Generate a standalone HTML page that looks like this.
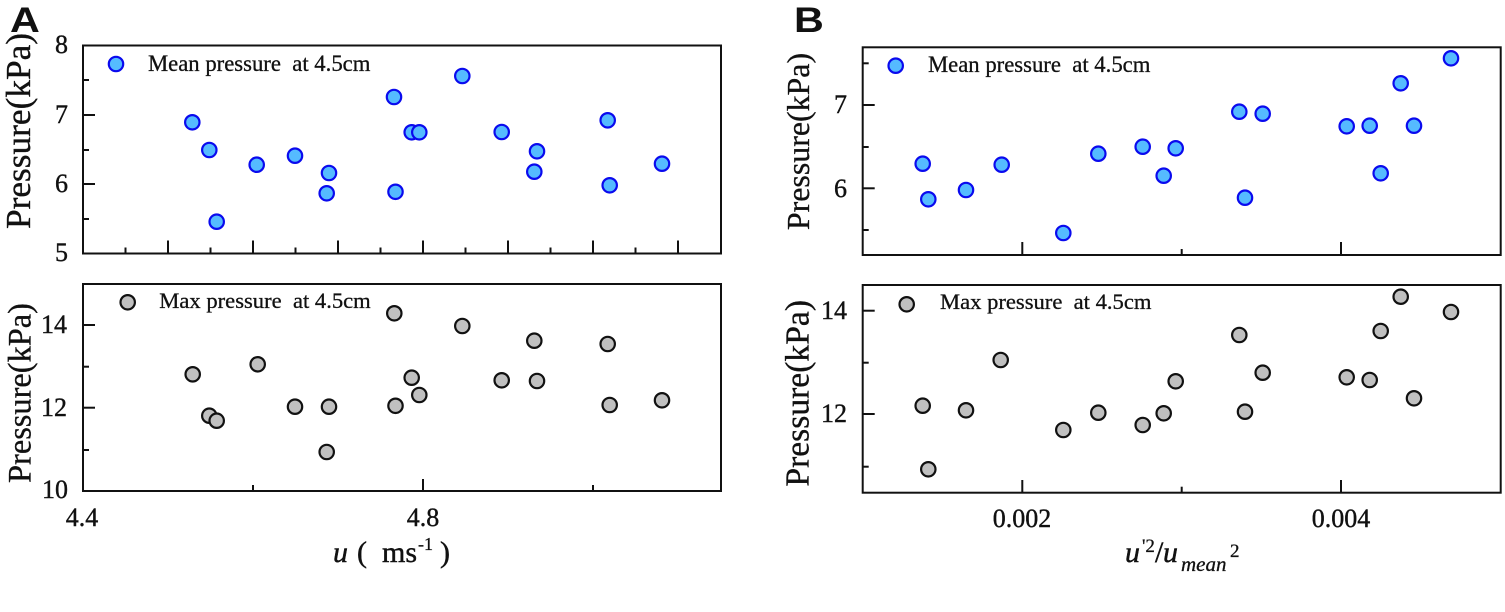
<!DOCTYPE html>
<html>
<head>
<meta charset="utf-8">
<style>
html,body{margin:0;padding:0;background:#fff;}
body{position:relative;width:1505px;height:577px;overflow:hidden;}
svg{display:block;position:absolute;left:0;top:0;}
.t{position:absolute;font-family:"Liberation Serif","Times New Roman",Times,"DejaVu Serif",serif;line-height:1;white-space:pre;color:#111;margin:0;padding:0;transform-origin:0 0;-webkit-text-stroke:0.3px #111;}
.n{font-size:20px;}
.r{transform:scale(1.3) translateX(-100%);}
.c{transform:scale(1.3) translateX(-50%);}
.x{font-size:20px;transform:scale(1.5);}
.i{font-style:italic;}
.ttl{position:absolute;left:0;top:0;width:260px;text-align:center;font-family:"Liberation Serif","Times New Roman",Times,"DejaVu Serif",serif;font-size:20px;line-height:1;white-space:pre;color:#111;transform-origin:0 0;-webkit-text-stroke:0.2px #111;}
.lab{position:absolute;font-family:"Liberation Sans",Arial,sans-serif;font-weight:bold;font-size:35px;line-height:1;color:#111;transform-origin:0 0;transform:scaleX(1.18);}
.b{fill:#55bbff;stroke:#0a0aee;stroke-width:2.2;}
.g{fill:#c0c0c0;stroke:#111;stroke-width:2.2;}
</style>
</head>
<body>
<svg width="1505" height="577" viewBox="0 0 1505 577" xmlns="http://www.w3.org/2000/svg">
<rect width="1505" height="577" fill="#fff"/>

<!-- ===== Panel A top ===== -->
<rect x="83" y="45.5" width="638" height="208" fill="none" stroke="#111" stroke-width="2"/>
<g stroke="#111" stroke-width="2">
  <line x1="168" y1="253.5" x2="168" y2="240.5"/>
  <line x1="253" y1="253.5" x2="253" y2="240.5"/>
  <line x1="338" y1="253.5" x2="338" y2="240.5"/>
  <line x1="423" y1="253.5" x2="423" y2="240.5"/>
  <line x1="508" y1="253.5" x2="508" y2="240.5"/>
  <line x1="593" y1="253.5" x2="593" y2="240.5"/>
  <line x1="678" y1="253.5" x2="678" y2="240.5"/>
  <line x1="125.5" y1="253.5" x2="125.5" y2="247.5"/>
  <line x1="210.5" y1="253.5" x2="210.5" y2="247.5"/>
  <line x1="295.5" y1="253.5" x2="295.5" y2="247.5"/>
  <line x1="380.5" y1="253.5" x2="380.5" y2="247.5"/>
  <line x1="465.5" y1="253.5" x2="465.5" y2="247.5"/>
  <line x1="550.5" y1="253.5" x2="550.5" y2="247.5"/>
  <line x1="635.5" y1="253.5" x2="635.5" y2="247.5"/>
  <line x1="83" y1="115" x2="95" y2="115"/>
  <line x1="83" y1="184" x2="95" y2="184"/>
  <line x1="83" y1="80" x2="89" y2="80"/>
  <line x1="83" y1="150" x2="89" y2="150"/>
  <line x1="83" y1="219" x2="89" y2="219"/>
</g>
<circle class="b" cx="116" cy="64" r="7.2"/>
<g class="b">
<circle cx="192.3" cy="122.3" r="7.2"/>
<circle cx="209.3" cy="150" r="7.2"/>
<circle cx="216.7" cy="221.7" r="7.2"/>
<circle cx="256.7" cy="164.7" r="7.2"/>
<circle cx="295" cy="155.7" r="7.2"/>
<circle cx="329" cy="173" r="7.2"/>
<circle cx="326.7" cy="193.3" r="7.2"/>
<circle cx="394" cy="97" r="7.2"/>
<circle cx="395.5" cy="191.8" r="7.2"/>
<circle cx="462.3" cy="76" r="7.2"/>
<circle cx="411.7" cy="132.3" r="7.2"/>
<circle cx="419.3" cy="132.3" r="7.2"/>
<circle cx="501.7" cy="132" r="7.2"/>
<circle cx="537" cy="151.3" r="7.2"/>
<circle cx="534.3" cy="171.7" r="7.2"/>
<circle cx="607.7" cy="120.3" r="7.2"/>
<circle cx="609.7" cy="185.3" r="7.2"/>
<circle cx="662" cy="163.7" r="7.2"/>
</g>

<!-- ===== Panel A bottom ===== -->
<rect x="83" y="284" width="638" height="207" fill="none" stroke="#111" stroke-width="2"/>
<g stroke="#111" stroke-width="2">
  <line x1="423" y1="491" x2="423" y2="479"/>
  <line x1="253" y1="491" x2="253" y2="485"/>
  <line x1="593" y1="491" x2="593" y2="485"/>
  <line x1="83" y1="325" x2="95" y2="325"/>
  <line x1="83" y1="407.7" x2="95" y2="407.7"/>
  <line x1="83" y1="366.7" x2="89" y2="366.7"/>
  <line x1="83" y1="450" x2="89" y2="450"/>
</g>
<circle class="g" cx="127.7" cy="302.3" r="7.2"/>
<g class="g">
<circle cx="192.7" cy="374.3" r="7.2"/>
<circle cx="209.3" cy="415.7" r="7.2"/>
<circle cx="216.7" cy="420.7" r="7.2"/>
<circle cx="257.7" cy="364.3" r="7.2"/>
<circle cx="295" cy="406.7" r="7.2"/>
<circle cx="329" cy="406.7" r="7.2"/>
<circle cx="326.7" cy="452" r="7.2"/>
<circle cx="394.3" cy="313.3" r="7.2"/>
<circle cx="395.5" cy="405.8" r="7.2"/>
<circle cx="411.7" cy="377.7" r="7.2"/>
<circle cx="419.3" cy="395" r="7.2"/>
<circle cx="462.3" cy="326" r="7.2"/>
<circle cx="501.7" cy="380.3" r="7.2"/>
<circle cx="537" cy="381" r="7.2"/>
<circle cx="534.3" cy="340.7" r="7.2"/>
<circle cx="607.7" cy="344" r="7.2"/>
<circle cx="609.7" cy="405" r="7.2"/>
<circle cx="662" cy="400.3" r="7.2"/>
</g>

<!-- ===== Panel B top ===== -->
<rect x="862.7" y="47.3" width="638" height="207.7" fill="none" stroke="#111" stroke-width="2"/>
<g stroke="#111" stroke-width="2">
  <line x1="1022.3" y1="255" x2="1022.3" y2="242"/>
  <line x1="1341" y1="255" x2="1341" y2="242"/>
  <line x1="1181.7" y1="255" x2="1181.7" y2="249"/>
  <line x1="862.7" y1="105" x2="874.7" y2="105"/>
  <line x1="862.7" y1="188.3" x2="874.7" y2="188.3"/>
  <line x1="862.7" y1="63.3" x2="868.7" y2="63.3"/>
  <line x1="862.7" y1="147" x2="868.7" y2="147"/>
  <line x1="862.7" y1="230" x2="868.7" y2="230"/>
</g>
<circle class="b" cx="895.7" cy="65.7" r="7.2"/>
<g class="b">
<circle cx="922.7" cy="163.7" r="7.2"/>
<circle cx="928.3" cy="199.3" r="7.2"/>
<circle cx="966" cy="190" r="7.2"/>
<circle cx="1001.7" cy="164.7" r="7.2"/>
<circle cx="1063.3" cy="233" r="7.2"/>
<circle cx="1098.3" cy="153.7" r="7.2"/>
<circle cx="1142.7" cy="146.7" r="7.2"/>
<circle cx="1175.7" cy="148.3" r="7.2"/>
<circle cx="1163.7" cy="175.7" r="7.2"/>
<circle cx="1239.3" cy="111.7" r="7.2"/>
<circle cx="1262.7" cy="113.7" r="7.2"/>
<circle cx="1245" cy="197.7" r="7.2"/>
<circle cx="1346.7" cy="126.3" r="7.2"/>
<circle cx="1369.7" cy="125.7" r="7.2"/>
<circle cx="1414" cy="125.7" r="7.2"/>
<circle cx="1380.7" cy="173.3" r="7.2"/>
<circle cx="1400.7" cy="83.3" r="7.2"/>
<circle cx="1451" cy="58.3" r="7.2"/>
</g>

<!-- ===== Panel B bottom ===== -->
<rect x="862.7" y="285" width="638" height="207.7" fill="none" stroke="#111" stroke-width="2"/>
<g stroke="#111" stroke-width="2">
  <line x1="1022.3" y1="492.7" x2="1022.3" y2="480"/>
  <line x1="1341" y1="492.7" x2="1341" y2="480"/>
  <line x1="1181.7" y1="492.7" x2="1181.7" y2="486.7"/>
  <line x1="862.7" y1="310.7" x2="874.7" y2="310.7"/>
  <line x1="862.7" y1="414" x2="874.7" y2="414"/>
  <line x1="862.7" y1="362.7" x2="868.7" y2="362.7"/>
  <line x1="862.7" y1="466.7" x2="868.7" y2="466.7"/>
</g>
<circle class="g" cx="906.7" cy="304.3" r="7.2"/>
<g class="g">
<circle cx="922.7" cy="405.7" r="7.2"/>
<circle cx="928.3" cy="469.3" r="7.2"/>
<circle cx="966" cy="410.3" r="7.2"/>
<circle cx="1000.7" cy="360" r="7.2"/>
<circle cx="1063.3" cy="430" r="7.2"/>
<circle cx="1098.3" cy="412.7" r="7.2"/>
<circle cx="1142.7" cy="425" r="7.2"/>
<circle cx="1163.7" cy="413.3" r="7.2"/>
<circle cx="1175.7" cy="381.3" r="7.2"/>
<circle cx="1239.3" cy="335" r="7.2"/>
<circle cx="1262.7" cy="372.7" r="7.2"/>
<circle cx="1245" cy="411.7" r="7.2"/>
<circle cx="1346.7" cy="377.3" r="7.2"/>
<circle cx="1369.7" cy="380" r="7.2"/>
<circle cx="1380.7" cy="331" r="7.2"/>
<circle cx="1400.7" cy="296.7" r="7.2"/>
<circle cx="1414" cy="398.3" r="7.2"/>
<circle cx="1451" cy="312" r="7.2"/>
</g>
</svg>

<!-- Panel labels -->
<div class="lab" style="left:10px;top:3.4px;">A</div>
<div class="lab" style="left:794px;top:3.4px;">B</div>

<!-- A top y tick labels -->
<div class="t n r" style="left:68px;top:32.2px;">8</div>
<div class="t n r" style="left:68px;top:102.2px;">7</div>
<div class="t n r" style="left:68px;top:171.2px;">6</div>
<div class="t n r" style="left:68px;top:240.2px;">5</div>
<!-- A bottom y tick labels -->
<div class="t n r" style="left:67px;top:312.2px;">14</div>
<div class="t n r" style="left:67px;top:395.2px;">12</div>
<div class="t n r" style="left:68px;top:477.2px;">10</div>
<!-- B y tick labels -->
<div class="t n r" style="left:847.3px;top:92.2px;">7</div>
<div class="t n r" style="left:847.3px;top:175.5px;">6</div>
<div class="t n r" style="left:847.3px;top:297.9px;">14</div>
<div class="t n r" style="left:847.3px;top:401.2px;">12</div>
<!-- x tick labels -->
<div class="t n c" style="left:82px;top:505.2px;">4.4</div>
<div class="t n c" style="left:423px;top:505.2px;">4.8</div>
<div class="t n c" style="left:1021.7px;top:506.2px;">0.002</div>
<div class="t n c" style="left:1340.7px;top:506.2px;">0.004</div>

<!-- Legends -->
<div class="t" style="left:148px;top:52.7px;font-size:22.7px;">Mean pressure  at 4.5cm</div>
<div class="t" style="left:928px;top:54px;font-size:22.7px;">Mean pressure  at 4.5cm</div>
<div class="t" style="left:159.3px;top:290.4px;font-size:22.6px;">Max pressure  at 4.5cm</div>
<div class="t" style="left:940px;top:291.1px;font-size:22.6px;">Max pressure  at 4.5cm</div>

<!-- Y axis titles (20px scaled) -->
<div class="ttl" style="transform:translate(31.5px,131px) rotate(-90deg) scale(1.765) translate(-130px,-16.75px);">Pressure(kPa)</div>
<div class="ttl" style="transform:translate(31.5px,393px) rotate(-90deg) scale(1.62) translate(-130px,-16.75px);">Pressure(kPa)</div>
<div class="ttl" style="transform:translate(810px,141.5px) rotate(-90deg) scale(1.595) translate(-130px,-16.75px);">Pressure(kPa)</div>
<div class="ttl" style="transform:translate(810px,393.3px) rotate(-90deg) scale(1.68) translate(-130px,-16.75px);">Pressure(kPa)</div>

<!-- X title A -->
<div class="t x i" style="left:333px;top:537.6px;">u</div>
<div class="t x" style="left:357px;top:537.6px;">(</div>
<div class="t x" style="left:382px;top:537.6px;">ms</div>
<div class="t" style="left:418px;top:534.9px;font-size:18px;">-1</div>
<div class="t x" style="left:440px;top:537.6px;">)</div>

<!-- X title B -->
<div class="t x i" style="left:1125px;top:537.9px;">u</div>
<div class="t" style="left:1142px;top:537.1px;font-size:19px;">'2</div>
<div class="t x" style="left:1155px;top:537.9px;">/</div>
<div class="t x i" style="left:1163px;top:537.9px;">u</div>
<div class="t i" style="left:1181px;top:554.4px;font-size:21px;">mean</div>
<div class="t" style="left:1230px;top:542.1px;font-size:19px;">2</div>
</body>
</html>
